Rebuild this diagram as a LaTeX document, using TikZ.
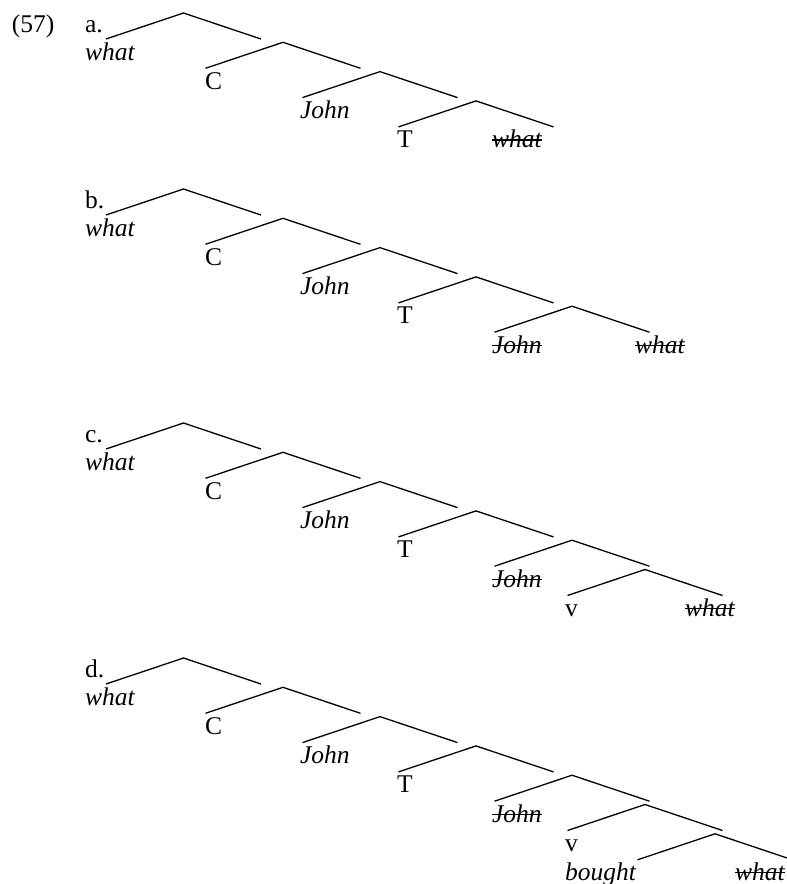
\documentclass[tikz,border=0pt]{standalone}
\usepackage{fontspec}
\setmainfont{Liberation Serif}
\def\Xs{{183.5,283,380,476,572,645,715}}
\newcommand\drawtree[3]{%
  \foreach \k in {0,...,#3}{%
    \pgfmathsetmacro\ax{\Xs[\k]}%
    \pgfmathsetmacro\ay{#2+29.3*\k}%
    \coordinate (#1\k) at (\ax,\ay);
    \coordinate (#1\k l) at (\ax-77.5,\ay+26);
    \coordinate (#1\k r) at (\ax+77.5,\ay+26);
    \draw[tree] (#1\k l) -- (#1\k) -- (#1\k r);
  }}
\begin{document}
\begin{tikzpicture}[x=1pt,y=-1pt,
  tree/.style={line width=1.3pt},
  strike/.style={line width=1.2pt},
  lab/.style={anchor=base west, inner sep=0pt, outer sep=0pt, font=\fontsize{25.5}{30}\selectfont},
  it/.style={lab, font=\fontsize{25.5}{30}\selectfont\itshape}]
\useasboundingbox (0,0) rectangle (787,884);
% (a)
\drawtree{a}{13}{3}
\node[lab] (n57) at (12,32) {(57)};
\node[lab] (alab) at (85,32) {a.};
\node[it] (awhat) at (85,60) {what};
\node[lab] (aC) at (205,89.3) {C};
\node[it] (aJohn) at (300,118.6) {John};
\node[lab] (aT) at (397,147.9) {T};
\node[it] (awhatx) at (492,147.9) {what};
\draw[strike] ([yshift=8pt]awhatx.base west) -- ([yshift=8pt]awhatx.base east);
% (b)
\drawtree{b}{189}{4}
\node[lab] (blab) at (85,208) {b.};
\node[it] (bwhat) at (85,236) {what};
\node[lab] (bC) at (205,265.3) {C};
\node[it] (bJohn) at (300,294.6) {John};
\node[lab] (bT) at (397,323.9) {T};
\node[it] (bJohnx) at (492,353.2) {John};
\node[it] (bwhatx) at (635,353.2) {what};
\draw[strike] ([yshift=8pt]bJohnx.base west) -- ([yshift=8pt]bJohnx.base east);
\draw[strike] ([yshift=8pt]bwhatx.base west) -- ([yshift=8pt]bwhatx.base east);
% (c)
\drawtree{c}{423}{5}
\node[lab] (clab) at (85,442) {c.};
\node[it] (cwhat) at (85,470) {what};
\node[lab] (cC) at (205,499.3) {C};
\node[it] (cJohn) at (300,528.6) {John};
\node[lab] (cT) at (397,557.9) {T};
\node[it] (cJohnx) at (492,587.2) {John};
\node[lab] (cv) at (565,616.5) {v};
\node[it] (cwhatx) at (685,616.5) {what};
\draw[strike] ([yshift=8pt]cJohnx.base west) -- ([yshift=8pt]cJohnx.base east);
\draw[strike] ([yshift=8pt]cwhatx.base west) -- ([yshift=8pt]cwhatx.base east);
% (d)
\drawtree{d}{658}{6}
\node[lab] (dlab) at (85,677) {d.};
\node[it] (dwhat) at (85,705) {what};
\node[lab] (dC) at (205,734.3) {C};
\node[it] (dJohn) at (300,763.6) {John};
\node[lab] (dT) at (397,792.9) {T};
\node[it] (dJohnx) at (492,822.2) {John};
\node[lab] (dv) at (565,851.5) {v};
\node[it] (dbought) at (565,880.8) {bought};
\node[it] (dwhatx) at (735,880.8) {what};
\draw[strike] ([yshift=8pt]dJohnx.base west) -- ([yshift=8pt]dJohnx.base east);
\draw[strike] ([yshift=8pt]dwhatx.base west) -- ([yshift=8pt]dwhatx.base east);
\end{tikzpicture}
\end{document}
